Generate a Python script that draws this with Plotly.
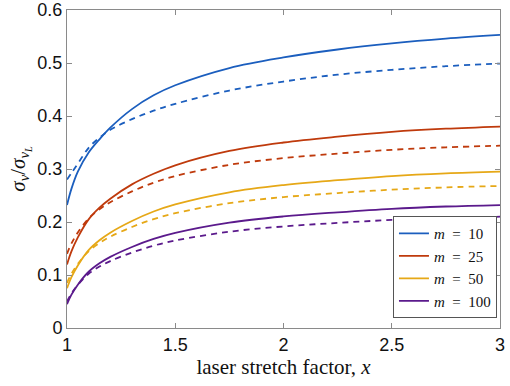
import plotly.graph_objects as go

x_vals = [1.0, 1.02, 1.05, 1.1, 1.15, 1.2, 1.3, 1.4, 1.5, 1.75, 2.0, 2.25, 2.5, 2.75, 3.0]

m10_solid = [0.232, 0.262, 0.295, 0.331, 0.356, 0.378, 0.413, 0.439, 0.458, 0.4905, 0.5105, 0.5255, 0.537, 0.546, 0.553]
m10_dash = [0.28, 0.292, 0.31, 0.34, 0.359, 0.374, 0.394, 0.41, 0.423, 0.448, 0.465, 0.478, 0.487, 0.494, 0.499]
m25_solid = [0.12, 0.144, 0.171, 0.205, 0.227, 0.244, 0.271, 0.291, 0.307, 0.334, 0.35, 0.361, 0.37, 0.376, 0.38]
m25_dash = [0.14, 0.159, 0.18, 0.2067, 0.224, 0.2373, 0.2577, 0.2742, 0.2867, 0.3079, 0.3205, 0.3291, 0.3362, 0.3409, 0.344]
m50_solid = [0.075, 0.0955, 0.1181, 0.147, 0.1656, 0.1799, 0.2019, 0.2198, 0.2332, 0.2561, 0.2697, 0.2789, 0.2866, 0.2917, 0.295]
m50_dash = [0.085, 0.102, 0.1209, 0.1448, 0.1604, 0.1723, 0.1906, 0.2054, 0.2166, 0.2356, 0.247, 0.2546, 0.261, 0.2653, 0.268]
m100_solid = [0.045, 0.0624, 0.0817, 0.1061, 0.122, 0.1342, 0.1529, 0.168, 0.1795, 0.1989, 0.2105, 0.2183, 0.2249, 0.2292, 0.232]
m100_dash = [0.05, 0.0649, 0.0814, 0.1023, 0.1159, 0.1263, 0.1423, 0.1553, 0.165, 0.1817, 0.1916, 0.1983, 0.2039, 0.2076, 0.21]

labels = ["10", "25", "50", "100"]
solids = [m10_solid, m25_solid, m50_solid, m100_solid]
dashes = [m10_dash, m25_dash, m50_dash, m100_dash]
colors = ["#1B5EBE", "#BF3A0C", "#E6A817", "#5B1A8C"]

x_ticks = [1, 1.5, 2, 2.5, 3]
x_tick_text = ["1", "1.5", "2", "2.5", "3"]
y_ticks = [0, 0.1, 0.2, 0.3, 0.4, 0.5, 0.6]
y_tick_text = ["0", "0.1", "0.2", "0.3", "0.4", "0.5", "0.6"]

fig = go.Figure()
for lab, ys, c in zip(labels, solids, colors):
    fig.add_trace(go.Scatter(x=x_vals, y=ys, mode="lines",
                             line=dict(color=c, width=1.8, shape="spline", smoothing=1.0),
                             name="<i>m</i>\u2002=\u2002" + lab, showlegend=True))
for lab, ys, c in zip(labels, dashes, colors):
    fig.add_trace(go.Scatter(x=x_vals, y=ys, mode="lines",
                             line=dict(color=c, width=1.8, shape="spline", smoothing=1.0, dash="6px,5px"),
                             showlegend=False))

axis_common = dict(showline=True, linecolor="#8a8a8a", linewidth=1, mirror="ticks",
                   ticks="inside", ticklen=5, tickcolor="#8a8a8a", showgrid=False, zeroline=False,
                   automargin=False, ticklabeloverflow="allow",
                   tickfont=dict(family="Liberation Sans, Arial", size=18, color="#111"))

fig.update_layout(
    width=510, height=386,
    margin=dict(l=67, r=10, t=10, b=58),
    plot_bgcolor="white", paper_bgcolor="white",
    xaxis=dict(range=[1, 3], tickvals=x_ticks, ticktext=x_tick_text,
               title=dict(text="laser stretch factor, <i>x</i>", standoff=2,
                          font=dict(family="Liberation Serif, Times New Roman", size=21, color="#111")),
               **axis_common),
    yaxis=dict(range=[0, 0.6], tickvals=y_ticks, ticktext=y_tick_text,
               title=dict(text="<i>σ<sub>ν</sub></i>/<i>σ<sub>ν<sub>L</sub></sub></i>", standoff=6,
                          font=dict(family="Liberation Serif, Times New Roman", size=21, color="#111")),
               **axis_common),
    legend=dict(x=0.993, y=0.031, xanchor="right", yanchor="bottom",
                bordercolor="#555", borderwidth=1, bgcolor="white",
                font=dict(family="Liberation Serif, Times New Roman", size=15, color="#111"),
                tracegroupgap=0, itemwidth=30),
)

fig.write_html("out.html", post_script="document.body.style.margin='0';",
               config={"displayModeBar": False})
